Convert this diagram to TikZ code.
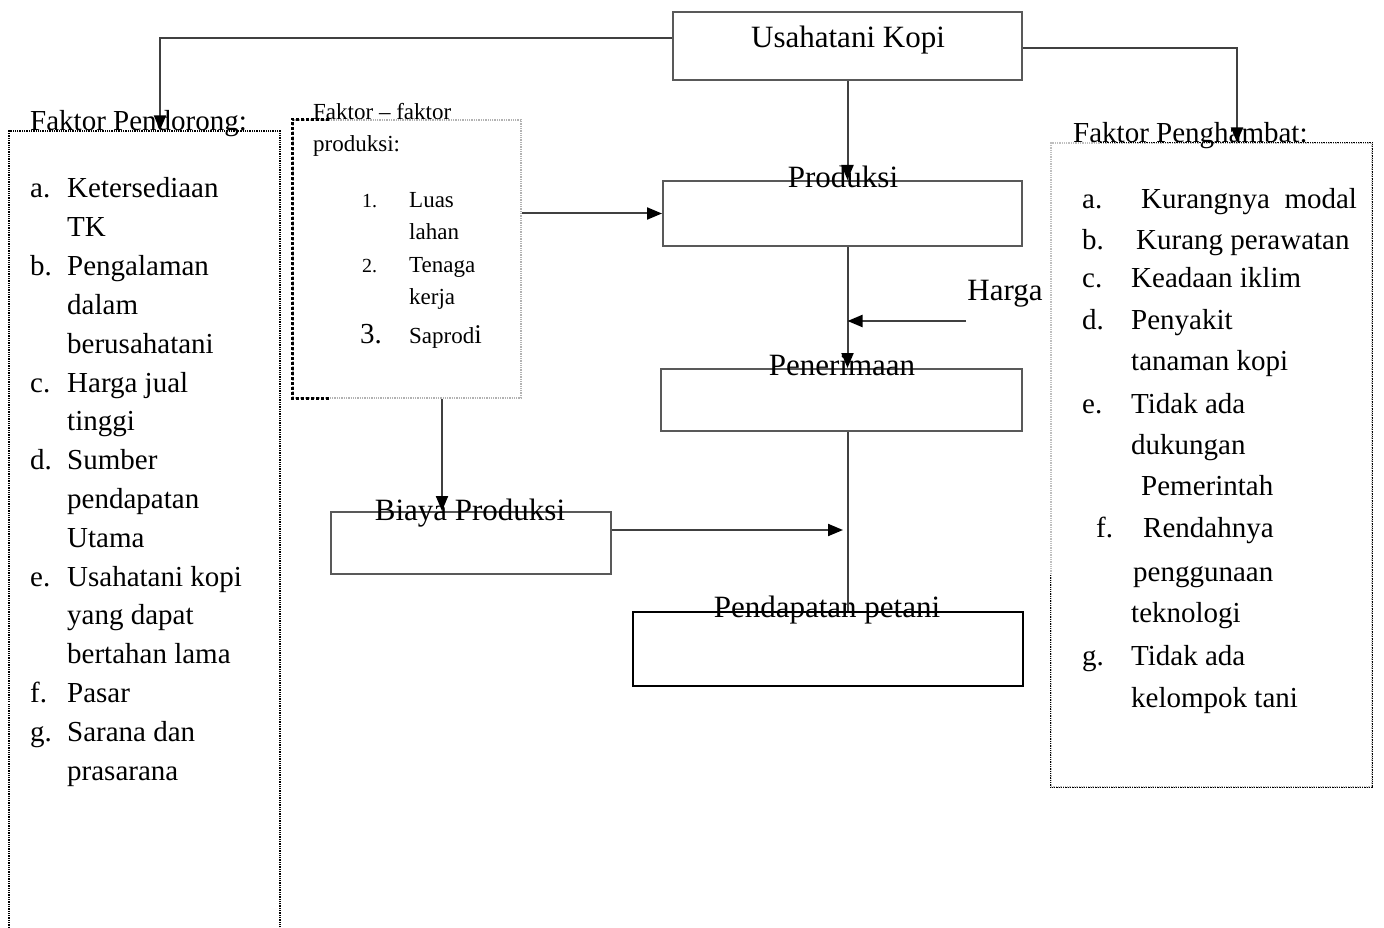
\documentclass[tikz,border=0pt]{standalone}
\usepackage{fontspec}
\setmainfont{Liberation Serif}
\usetikzlibrary{arrows.meta}
\usetikzlibrary{calc}

\begin{document}
\begin{tikzpicture}[x=1pt, y=-1pt,
  box/.style={draw=black!65, line width=2pt, inner sep=0pt},
  dotbox/.style={draw, densely dotted, line width=1.3pt, inner sep=0pt},
  arr/.style={line width=2pt, draw=black!75, -{Triangle[length=15pt, width=12pt, color=black]}},
  lbl/.style={font=\fontsize{31}{36}\selectfont, anchor=base, inner sep=0pt},
  item/.style={font=\fontsize{29}{34}\selectfont, anchor=base west, inner sep=0pt},
  title/.style={font=\fontsize{29}{32}\selectfont, anchor=base west, inner sep=0pt},
  small/.style={font=\fontsize{23}{26}\selectfont, anchor=base west, inner sep=0pt}]
  \useasboundingbox (0,0) rectangle (1384,928);

  \node[box, minimum width=349pt, minimum height=68pt] (usaha) at (847.5,46) {};
  \node[lbl] (usahalbl) at (848,48) {Usahatani Kopi};

  \node[box, minimum width=359pt, minimum height=65pt] (prod) at (842.5,213.5) {};
  \node[box, minimum width=361pt, minimum height=62pt] (pener) at (841.5,400) {};
  \node[box, minimum width=280pt, minimum height=62pt] (biaya) at (471,543) {};
  \node[box, draw=black, minimum width=390pt, minimum height=74pt] (pendap) at (828,649) {};

  \node[dotbox, draw=black!30, minimum width=228pt, minimum height=278pt] (fprod) at (407,259) {};
  \draw[densely dashed, line width=2.5pt] ([xshift=37pt]fprod.north west) -- (fprod.north west)
    -- (fprod.south west) -- ([xshift=37pt]fprod.south west);
  \node[dotbox, minimum width=271pt, minimum height=829pt] (pendorong) at (144.5,545.5) {};
  \node[dotbox, draw=black!25, minimum width=321pt, minimum height=644pt] (penghambat) at (1211.5,465) {};
  \draw[densely dotted, line width=1.3pt] (penghambat.west |- 0,575) -- (penghambat.south west)
    -- (penghambat.south east) -- (penghambat.north east) -- (penghambat.north west -| 1100,0);

  \node[lbl] (prodlbl) at (843,188) {Produksi};
  \node[lbl] (penerlbl) at (842,375) {Penerimaan};
  \node[lbl] (biayalbl) at (470,520) {Biaya Produksi};
  \node[lbl] (pendaplbl) at (827,617) {Pendapatan petani};
  \node[lbl] (harga) at (1005,300) {Harga};
  \coordinate (hg) at (966,321);
  \coordinate (bj) at (843,530);

  \node[title] (pendorongttl) at (30,131) {Faktor Pendorong:};
  \node[title] (penghambatttl) at (1073,143) {Faktor Penghambat:};
  \node[small] (fprodttl) at (313,120) {Faktor -- faktor};
  \node[small] (fprodttlb) at (313,152) {produksi:};

  \foreach \lbl/\txt [count=\i from 0] in {a./Ketersediaan, /TK, b./Pengalaman, /dalam,
      /berusahatani, c./Harga jual, /tinggi, d./Sumber, /pendapatan, /Utama,
      e./Usahatani kopi, /yang dapat, /bertahan lama, f./Pasar, g./Sarana dan, /prasarana}
  {
    \node[item] at (30,198+38.8*\i) {\lbl};
    \node[item] at (67,198+38.8*\i) {\txt};
  }

  \foreach \lx/\lbl/\tx/\txt/\y in {1082/a./1141/Kurangnya\ \ modal/209, 1082/b./1136/Kurang perawatan/249,
      1082/c./1131/Keadaan iklim/287, 1082/d./1131/Penyakit/329, 1082//1131/tanaman kopi/370,
      1082/e./1131/Tidak ada/413, 1082//1131/dukungan/454, 1082//1141/Pemerintah/495,
      1096/f./1143/Rendahnya/537, 1082//1133/penggunaan/581, 1082//1131/teknologi/622,
      1082/g./1131/Tidak ada/665, 1082//1131/kelompok tani/707}
  {
    \node[item] at (\lx,\y) {\lbl};
    \node[item] at (\tx,\y) {\txt};
  }

  \foreach \lbl/\txt/\y in {1./Luas/208, /lahan/240, 2./Tenaga/272, /kerja/304}
  {
    \node[small, font=\fontsize{20}{24}\selectfont] at (362,\y) {\lbl};
    \node[small] at (409,\y) {\txt};
  }
  \node[small, font=\fontsize{29}{32}\selectfont] at (360,343) {3.};
  \node[small] at (409,343) {Saprod{\fontsize{27}{30}\selectfont i}};

  \draw[arr] ([yshift=8pt]usaha.west) -| ([xshift=15.5pt]pendorong.north);
  \draw[arr] ([yshift=-2pt]usaha.east) -| ([xshift=25.5pt]penghambat.north);
  \draw[arr] (usaha.south) -- (prod.north -| usaha.south);
  \draw[arr] (fprod.east |- prod.west) -- (prod.west);
  \draw[arr] (prod.south -| usaha.south) -- (pener.north -| usaha.south);
  \draw[arr] (hg) -- (hg -| usaha.south);
  \draw[line width=2pt, draw=black!75] (pener.south -| usaha.south) -- (pendap.north -| usaha.south);
  \draw[arr] ([xshift=35pt]fprod.south) -- ([xshift=35pt]fprod.south |- biaya.north);
  \draw[arr] (biaya.east |- bj) -- (bj);
\end{tikzpicture}
\end{document}
